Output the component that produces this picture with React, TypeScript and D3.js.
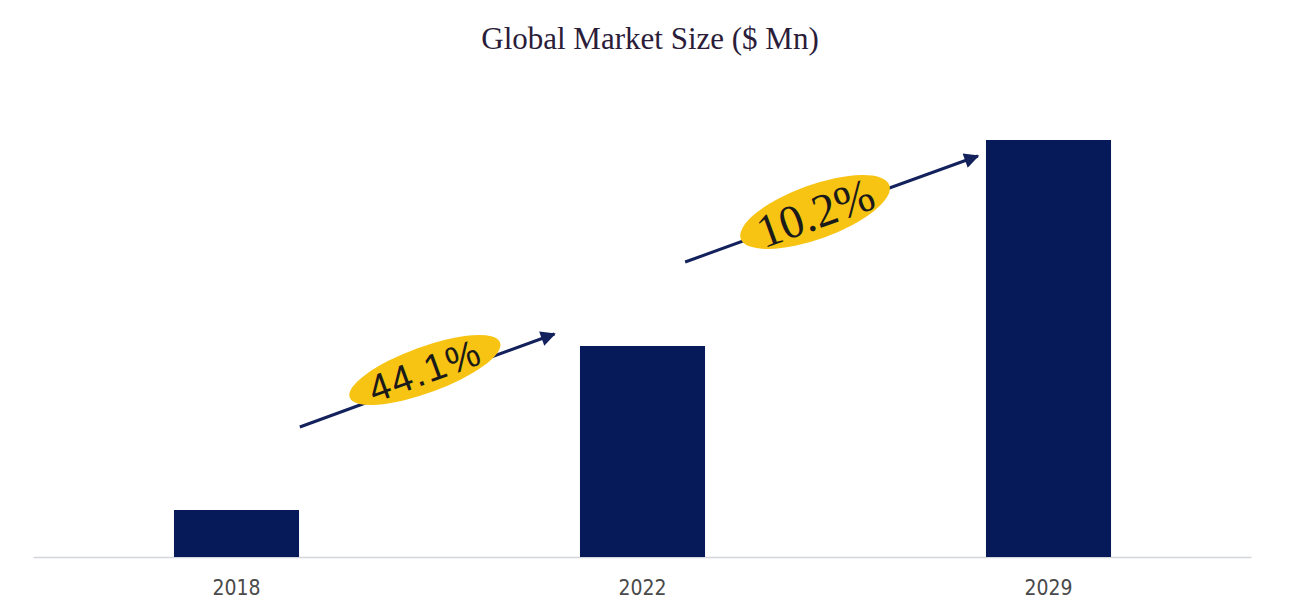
import * as d3 from 'd3'

// chart values (no axis shown, units are $ Mn relative)
const years = ['2018', '2022', '2029']
const marketSize = [47, 211, 417]

// CAGR annotations between consecutive bars
const cagrLabels = ['44.1%', '10.2%']
const cagrFonts = ['"Liberation Sans", Arial, sans-serif', '"Liberation Serif", serif']
const cagrSizes = [38, 47]
// arrow ends in (category index, value) units
const arrowFromIdx = [0.156, 1.105]
const arrowToIdx = [0.783, 1.826]
const arrowFromVal = [130, 295]
const arrowToVal = [223, 401]
// ellipse badge centres in the same units
const badgeIdx = [0.464, 1.425]
const badgeVal = [187, 345]
const badgeRx = [80, 79]
const badgeRy = [23, 27]

const W = 1300
const H = 614
const NAVY = '#061a5a'
const ARROW = '#13215c'
const YELLOW = '#f8c414'

export default function App() {
  const x = d3
    .scaleBand<string>()
    .domain(years)
    .range([33.5, 1251.5])
    .paddingInner(0.692)
    .paddingOuter(0.346)
  const y = d3.scaleLinear().domain([0, 417]).range([557, 140])
  // index scale between band centres, for annotations
  const xi = d3
    .scaleLinear()
    .domain([0, years.length - 1])
    .range([x(years[0])! + x.bandwidth() / 2, x(years[years.length - 1])! + x.bandwidth() / 2])

  return (
    <div style={{ position: 'fixed', left: 0, top: 0 }}>
      <svg width={W} height={H} style={{ display: 'block', background: '#fff' }}>
        <defs>
          <marker
            id="arr"
            viewBox="0 0 10 10"
            refX="9"
            refY="5"
            markerWidth="6"
            markerHeight="5"
            markerUnits="strokeWidth"
            orient="auto"
          >
            <path d="M0,0 L10,5 L0,10 z" fill={ARROW} />
          </marker>
        </defs>

        <text
          x={W / 2}
          y={49}
          textAnchor="middle"
          fontFamily='"Liberation Serif", serif'
          fontSize={31}
          fill="#2b1d3a"
        >
          Global Market Size ($ Mn)
        </text>

        {/* baseline */}
        <line x1={33.5} x2={1251.5} y1={557.5} y2={557.5} stroke="#d4d6dc" strokeWidth={1.5} />

        {/* bars */}
        {years.map((yr, i) => (
          <rect
            key={yr}
            x={x(yr)}
            y={y(marketSize[i])}
            width={x.bandwidth()}
            height={y(0) - y(marketSize[i])}
            fill={NAVY}
          />
        ))}

        {/* x labels */}
        {years.map(yr => (
          <text
            key={yr}
            x={x(yr)! + x.bandwidth() / 2}
            y={595}
            textAnchor="middle"
            fontFamily='"DejaVu Sans Condensed", "DejaVu Sans", sans-serif'
            fontStretch="condensed"
            fontSize={21}
            fill="#4a4a4a"
          >
            {yr}
          </text>
        ))}

        {/* CAGR arrows + badges */}
        {cagrLabels.map((lab, i) => {
          const x1 = xi(arrowFromIdx[i])
          const y1 = y(arrowFromVal[i])
          const x2 = xi(arrowToIdx[i])
          const y2 = y(arrowToVal[i])
          const ang = (Math.atan2(y2 - y1, x2 - x1) * 180) / Math.PI
          const cx = xi(badgeIdx[i])
          const cy = y(badgeVal[i])
          return (
            <g key={lab}>
              <line
                x1={x1}
                y1={y1}
                x2={x2}
                y2={y2}
                stroke={ARROW}
                strokeWidth={3}
                markerEnd="url(#arr)"
              />
              <g transform={`translate(${cx},${cy}) rotate(${ang})`}>
                <ellipse rx={badgeRx[i]} ry={badgeRy[i]} fill={YELLOW} />
                <text
                  textAnchor="middle"
                  dy="0.36em"
                  fontFamily={cagrFonts[i]}
                  fontSize={cagrSizes[i]}
                  letterSpacing={i === 0 ? 2 : 0}
                  fill="#1a1a1a"
                >
                  {lab}
                </text>
              </g>
            </g>
          )
        })}
      </svg>
    </div>
  )
}
